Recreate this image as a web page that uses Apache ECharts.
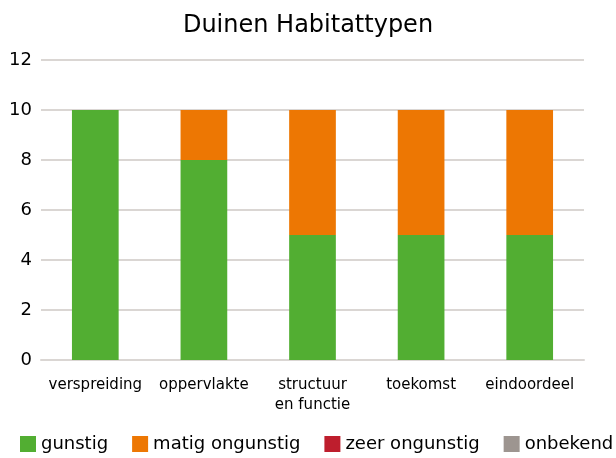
<!DOCTYPE html>
<html>
<head>
<meta charset="utf-8">
<script src="https://cdn.jsdelivr.net/npm/echarts@6/dist/echarts.min.js"></script>
<style>
  html, body { margin: 0; padding: 0; background: #fff; }
  #chart { width: 616px; height: 458px; }
</style>
</head>
<body>
<div id="chart"></div>
<script>
const categories = ['verspreiding', 'oppervlakte', 'structuur\nen functie', 'toekomst', 'eindoordeel']
const gunstig = [10, 8, 5, 5, 5]
const matigOngunstig = [0, 2, 5, 5, 5]
const zeerOngunstig = [0, 0, 0, 0, 0]
const onbekend = [0, 0, 0, 0, 0]

const font = 'Verdana, "DejaVu Sans", sans-serif'

const chart = echarts.init(document.getElementById('chart'))

function bar(name, data, color) {
  return {
    name: name,
    type: 'bar',
    stack: 'total',
    barWidth: '43%',
    data: data,
    itemStyle: { color: color },
    emphasis: { disabled: true }
  }
}

chart.setOption({
  animation: false,
  title: {
    text: 'Duinen Habitattypen',
    left: 'center',
    top: 9,
    textStyle: { fontFamily: font, fontSize: 24, fontWeight: 'normal', color: '#000' }
  },
  grid: {
    left: 41,
    right: 32,
    top: 60,
    bottom: 98
  },
  legend: {
    top: 435,
    left: 20,
    width: 596,
    padding: 0,
    itemWidth: 16,
    itemHeight: 16,
    itemGap: 24,
    icon: 'rect',
    textStyle: { fontFamily: font, fontSize: 18, color: '#000' },
    data: ['gunstig', 'matig ongunstig', 'zeer ongunstig', 'onbekend']
  },
  xAxis: {
    type: 'category',
    data: categories,
    axisTick: { show: false },
    axisLine: { lineStyle: { color: '#dad6d3', width: 2 } },
    axisLabel: { interval: 0, fontFamily: font, fontSize: 15, color: '#000', margin: 15, lineHeight: 20 }
  },
  yAxis: {
    type: 'value',
    min: 0,
    max: 12,
    interval: 2,
    axisLine: { show: false },
    axisTick: { show: false },
    splitLine: { lineStyle: { color: '#dad6d3', width: 2 } },
    axisLabel: { fontFamily: font, fontSize: 18, color: '#000', margin: 9 }
  },
  series: [
    bar('gunstig', gunstig, '#52ae32'),
    bar('matig ongunstig', matigOngunstig, '#ed7703'),
    bar('zeer ongunstig', zeerOngunstig, '#be1e2d'),
    bar('onbekend', onbekend, '#9d9590')
  ]
})
</script>
</body>
</html>
